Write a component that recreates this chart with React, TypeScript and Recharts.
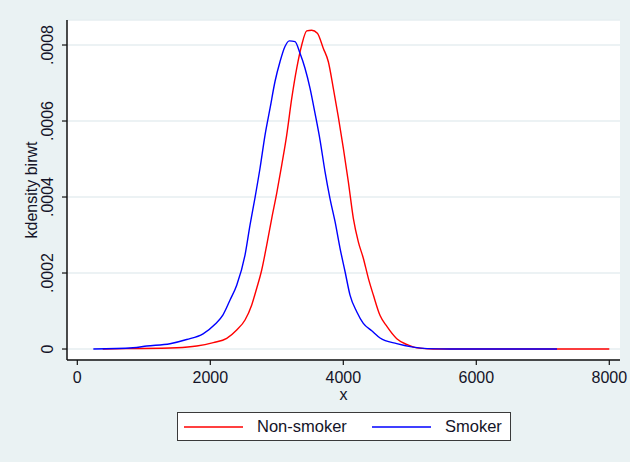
import React from 'react';
import { LineChart, Line, XAxis, YAxis, CartesianGrid, Legend, Label } from 'recharts';

// Smoker (blue) kernel density estimate
const smokerX = [241, 838, 1044, 1394, 1645, 1891, 2071, 2191, 2297, 2397, 2522, 2597, 2672, 2747, 2823, 2898, 2973, 3048, 3123, 3188, 3274, 3349, 3424, 3500, 3575, 3650, 3725, 3800, 3876, 3951, 4026, 4101, 4202, 4301, 4428, 4553, 4804, 5049, 5259, 5605, 6357, 7214];
const smokerY = [0, 0.0000035, 0.0000079, 0.000014, 0.000025, 0.00004, 0.000065, 0.00009, 0.000129, 0.000168, 0.000247, 0.000326, 0.000398, 0.000475, 0.000563, 0.000633, 0.000704, 0.000756, 0.000796, 0.000811, 0.000809, 0.000778, 0.000739, 0.000686, 0.00062, 0.00055, 0.000467, 0.000396, 0.000335, 0.000265, 0.000204, 0.000142, 0.000098, 0.0000675, 0.000048, 0.000029, 0.000014, 0.000005, 0.000001, 0, 0, 0];

// Non-smoker (red) kernel density estimate
const nonSmokerX = [382, 743, 1495, 1796, 2045, 2247, 2397, 2522, 2623, 2698, 2773, 2849, 2924, 2999, 3074, 3149, 3225, 3300, 3375, 3450, 3525, 3610, 3700, 3775, 3850, 3925, 4001, 4076, 4151, 4226, 4301, 4377, 4452, 4553, 4653, 4804, 4954, 5105, 5350, 6057, 6959, 8000];
const nonSmokerY = [0, 0.000001, 0.0000035, 0.0000079, 0.000017, 0.000028, 0.00005, 0.0000763, 0.000116, 0.00016, 0.000208, 0.000274, 0.000344, 0.00041, 0.000484, 0.000563, 0.00066, 0.000739, 0.0008, 0.000837, 0.000839, 0.000831, 0.000791, 0.000756, 0.000686, 0.000611, 0.000528, 0.00044, 0.000344, 0.000282, 0.000239, 0.000186, 0.000142, 0.000088, 0.00006, 0.000027, 0.000012, 0.000003, 0, 0, 0, 0];

const xTicks = [0, 2000, 4000, 6000, 8000];
const yTicks = [0, 0.0002, 0.0004, 0.0006, 0.0008];
const seriesNames = ['Non-smoker', 'Smoker'];
const xTitle = 'x';
const yTitle = 'kdensity birwt';

const smokerData = smokerX.map((x, i) => ({ x, y: smokerY[i] }));
const nonSmokerData = nonSmokerX.map((x, i) => ({ x, y: nonSmokerY[i] }));

const FONT = "'Liberation Sans', Arial, sans-serif";
const TEXT = '#141428';

const fmtY = (v: number) => (v === 0 ? '0' : v.toFixed(4).replace(/^0/, ''));

const YTick = (props: any) => {
  const { x, y, payload } = props;
  const cx = x - 12;
  return (
    <text
      x={cx}
      y={y}
      transform={`rotate(-90 ${cx} ${y})`}
      textAnchor="middle"
      dominantBaseline="central"
      fontSize={16}
      fill={TEXT}
      fontFamily={FONT}
    >
      {fmtY(payload.value)}
    </text>
  );
};

const renderLegend = (props: any) => {
  const { payload } = props;
  return (
    <div
      style={{
        width: 334,
        height: 29,
        boxSizing: 'border-box',
        border: '1.5px solid #3a3a3a',
        background: '#fff',
        display: 'flex',
        alignItems: 'center',
        paddingLeft: 6,
        fontFamily: FONT,
        fontSize: 16.5,
        color: TEXT,
      }}
    >
      {(payload || []).map((entry: any, i: number) => (
        <div key={i} style={{ display: 'flex', alignItems: 'center', width: i === 0 ? 188 : undefined }}>
          <svg width={59} height={4} style={{ display: 'block' }}>
            <line x1={0} y1={2} x2={59} y2={2} stroke={entry.color} strokeWidth={1.5} />
          </svg>
          <span style={{ marginLeft: 14 }}>{entry.value}</span>
        </div>
      ))}
    </div>
  );
};

export default function App() {
  return (
    <div
      style={{
        position: 'absolute',
        left: 0,
        top: 0,
        width: 630,
        height: 462,
        background: '#eaf2f3',
        fontFamily: FONT,
      }}
    >
      <LineChart width={630} height={462} margin={{ top: 20, right: 10, bottom: 62, left: 0 }}>
        <CartesianGrid vertical={false} stroke="#e6eef0" strokeWidth={1.5} fill="#ffffff" fillOpacity={1} />
        <XAxis
          type="number"
          dataKey="x"
          domain={[-155, 8161]}
          allowDataOverflow
          ticks={xTicks}
          height={40}
          tickSize={5}
          tickMargin={7}
          tick={{ fontSize: 16, fill: TEXT }}
          axisLine={{ stroke: '#111', strokeWidth: 1.5 }}
          tickLine={{ stroke: '#111', strokeWidth: 1.2 }}
        >
          <Label value={xTitle} position="center" dy={14} fontSize={16} fill={TEXT} />
        </XAxis>
        <YAxis
          type="number"
          dataKey="y"
          domain={[-0.0000289, 0.0008658]}
          allowDataOverflow
          ticks={yTicks}
          width={67}
          tickSize={5}
          tick={YTick}
          axisLine={{ stroke: '#111', strokeWidth: 1.5 }}
          tickLine={{ stroke: '#111', strokeWidth: 1.2 }}
        >
          <Label value={yTitle} position="center" angle={-90} dx={-2} fontSize={16} fill={TEXT} />
        </YAxis>
        <Line
          data={nonSmokerData}
          dataKey="y"
          name={seriesNames[0]}
          type="monotone"
          stroke="#ff0000"
          strokeWidth={1.4}
          dot={false}
          isAnimationActive={false}
        />
        <Line
          data={smokerData}
          dataKey="y"
          name={seriesNames[1]}
          type="monotone"
          stroke="#0000ff"
          strokeWidth={1.4}
          dot={false}
          isAnimationActive={false}
        />
        <Legend
          layout="vertical"
          align="center"
          verticalAlign="middle"
          wrapperStyle={{ left: 177, top: 412, width: 334, height: 29 }}
          content={renderLegend}
        />
      </LineChart>
    </div>
  );
}
